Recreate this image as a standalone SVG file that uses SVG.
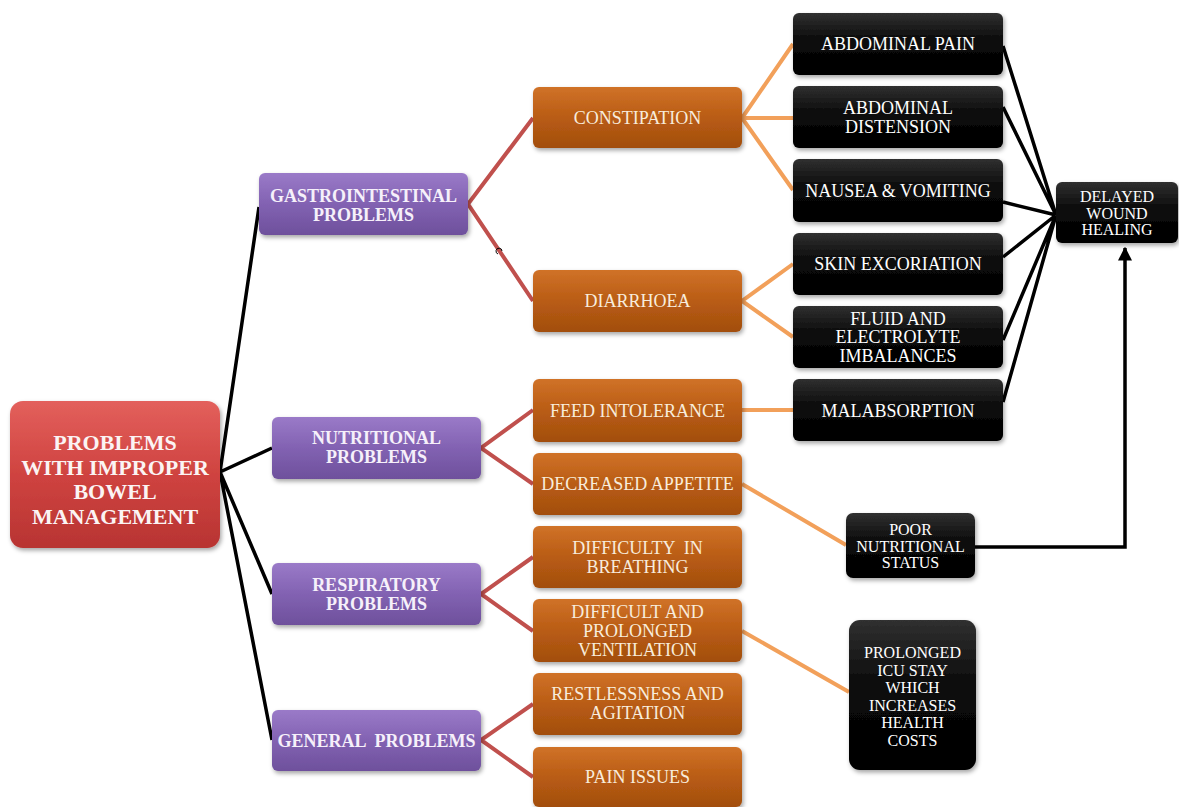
<svg xmlns="http://www.w3.org/2000/svg" width="1179" height="807" viewBox="0 0 1179 807">
<defs>
<linearGradient id="gRed" x1="0" y1="0" x2="0" y2="1"><stop offset="0" stop-color="#e3605c"/><stop offset="0.5" stop-color="#cf4340"/><stop offset="1" stop-color="#b83432"/></linearGradient>
<linearGradient id="gPur" x1="0" y1="0" x2="0" y2="1"><stop offset="0" stop-color="#9a7ac8"/><stop offset="0.5" stop-color="#8262b2"/><stop offset="1" stop-color="#6e509c"/></linearGradient>
<linearGradient id="gOra" x1="0" y1="0" x2="0" y2="1"><stop offset="0" stop-color="#d07228"/><stop offset="0.5" stop-color="#b95c14"/><stop offset="1" stop-color="#a24e0e"/></linearGradient>
<linearGradient id="gBlk" x1="0" y1="0" x2="0" y2="1"><stop offset="0" stop-color="#303030"/><stop offset="0.45" stop-color="#0a0a0a"/><stop offset="1" stop-color="#000"/></linearGradient>
<filter id="sh" x="-10%" y="-10%" width="130%" height="140%"><feDropShadow dx="1.5" dy="2.5" stdDeviation="2" flood-color="#000" flood-opacity="0.35"/></filter>
<marker id="arr" viewBox="0 0 10 10" refX="9" refY="5" markerWidth="4" markerHeight="4" orient="auto"><path d="M0,0 L10,5 L0,10 z" fill="#000"/></marker>
<style>
.red{fill:url(#gRed);filter:url(#sh)}
.pur{fill:url(#gPur);filter:url(#sh)}
.ora{fill:url(#gOra);filter:url(#sh)}
.blk{fill:url(#gBlk);filter:url(#sh)}
text{font-family:"Liberation Serif","Times New Roman",serif;text-anchor:middle}
.tr{font-size:22px;font-weight:bold;fill:#fbf4f4}
.tp{font-size:18px;font-weight:bold;fill:#f6f0fa}
.to{font-size:18px;fill:#f8ecdc}
.tb{font-size:18px;fill:#fff}
.ts{font-size:16px;fill:#fff}
.cb{stroke:#000;stroke-width:3.5;fill:none}
.cr{stroke:#c0504d;stroke-width:4;fill:none}
.co{stroke:#f2a05a;stroke-width:4;fill:none}
</style>
</defs>
<rect width="1179" height="807" fill="#fff"/>
<g id="connectors">
<path class="cb" d="M220,472 L259,207 M220,472 L272,448 M220,472 L272,594 M220,472 L272,740"/>
<path class="cr" d="M533,118 L468,204 L533,301 M533,410 L481,448 L533,484 M533,557 L481,594 L533,631 M533,704 L481,740 L533,777"/>
<path d="M498,254 a3,3 0 1 1 4,-3" stroke="#000" stroke-width="1" fill="none"/>
<path class="co" d="M793,44 L742,118 L793,190 M742,118 L793,118 M793,264 L742,301 L793,337 M742,410 L793,410 M742,484 L846,545 M742,631 L849,692"/>
<path class="cb" d="M1003,46 L1056,215 M1003,107 L1056,215 M1003,202 L1056,215 M1003,257 L1056,215 M1003,340 L1056,215 M1003,402 L1056,215"/>
<path class="cb" d="M975,547 L1125,547 L1125,248" marker-end="url(#arr)"/>
</g>
<g id="root"><rect class="red" x="10" y="401" width="210" height="147" rx="13"/>
<text class="tr"><tspan x="115" y="450">PROBLEMS</tspan><tspan x="115" y="474.5">WITH IMPROPER</tspan><tspan x="115" y="499">BOWEL</tspan><tspan x="115" y="523.5">MANAGEMENT</tspan></text></g>
<g id="gi"><rect class="pur" x="259" y="173" width="209" height="62" rx="6"/><text class="tp"><tspan x="363.5" y="201.5">GASTROINTESTINAL</tspan><tspan x="363.5" y="220.5">PROBLEMS</tspan></text></g>
<g id="nutritional"><rect class="pur" x="272" y="417" width="209" height="62" rx="6"/><text class="tp"><tspan x="376.5" y="443.5">NUTRITIONAL</tspan><tspan x="376.5" y="462.5">PROBLEMS</tspan></text></g>
<g id="respiratory"><rect class="pur" x="272" y="563" width="209" height="62" rx="6"/><text class="tp"><tspan x="376.5" y="590.5">RESPIRATORY</tspan><tspan x="376.5" y="609.5">PROBLEMS</tspan></text></g>
<g id="general"><rect class="pur" x="272" y="710" width="209" height="61" rx="6"/><text class="tp" x="376.5" y="746.5" xml:space="preserve">GENERAL  PROBLEMS</text></g>
<g id="constipation"><rect class="ora" x="533" y="87" width="209" height="61" rx="6"/><text class="to" x="637.5" y="123.5">CONSTIPATION</text></g>
<g id="diarrhoea"><rect class="ora" x="533" y="270" width="209" height="62" rx="6"/><text class="to" x="637.5" y="307">DIARRHOEA</text></g>
<g id="feed"><rect class="ora" x="533" y="379" width="209" height="63" rx="6"/><text class="to" x="637.5" y="417">FEED INTOLERANCE</text></g>
<g id="appetite"><rect class="ora" x="533" y="453" width="209" height="62" rx="6"/><text class="to" x="637.5" y="490">DECREASED APPETITE</text></g>
<g id="breathing"><rect class="ora" x="533" y="526" width="209" height="62" rx="6"/><text class="to" xml:space="preserve"><tspan x="637.5" y="553.5">DIFFICULTY  IN</tspan><tspan x="637.5" y="572.5">BREATHING</tspan></text></g>
<g id="ventilation"><rect class="ora" x="533" y="599" width="209" height="63" rx="6"/><text class="to"><tspan x="637.5" y="617.5">DIFFICULT AND</tspan><tspan x="637.5" y="636.5">PROLONGED</tspan><tspan x="637.5" y="655.5">VENTILATION</tspan></text></g>
<g id="restlessness"><rect class="ora" x="533" y="673" width="209" height="62" rx="6"/><text class="to"><tspan x="637.5" y="700">RESTLESSNESS AND</tspan><tspan x="637.5" y="719">AGITATION</tspan></text></g>
<g id="pain"><rect class="ora" x="533" y="747" width="209" height="60" rx="6"/><text class="to" x="637.5" y="783">PAIN ISSUES</text></g>
<g id="abdpain"><rect class="blk" x="793" y="13" width="210" height="62" rx="6"/><text class="tb" x="898" y="50">ABDOMINAL PAIN</text></g>
<g id="distension"><rect class="blk" x="793" y="86" width="210" height="62" rx="6"/><text class="tb"><tspan x="898" y="113.5">ABDOMINAL</tspan><tspan x="898" y="132.5">DISTENSION</tspan></text></g>
<g id="nausea"><rect class="blk" x="793" y="159" width="210" height="63" rx="6"/><text class="tb" x="898" y="196.5">NAUSEA &amp; VOMITING</text></g>
<g id="skin"><rect class="blk" x="793" y="233" width="210" height="62" rx="6"/><text class="tb" x="898" y="270">SKIN EXCORIATION</text></g>
<g id="fluid"><rect class="blk" x="793" y="306" width="210" height="62" rx="6"/><text class="tb"><tspan x="898" y="325">FLUID AND</tspan><tspan x="898" y="343">ELECTROLYTE</tspan><tspan x="898" y="361.5">IMBALANCES</tspan></text></g>
<g id="malabsorption"><rect class="blk" x="793" y="379" width="210" height="62" rx="6"/><text class="tb" x="898" y="416.5">MALABSORPTION</text></g>
<g id="wound"><rect class="blk" x="1056" y="182" width="122" height="61" rx="6"/><text class="ts"><tspan x="1117" y="202">DELAYED</tspan><tspan x="1117" y="218.5">WOUND</tspan><tspan x="1117" y="235">HEALING</tspan></text></g>
<g id="poor"><rect class="blk" x="846" y="513" width="129" height="65" rx="7"/><text class="ts"><tspan x="910.5" y="535">POOR</tspan><tspan x="910.5" y="551.5">NUTRITIONAL</tspan><tspan x="910.5" y="568">STATUS</tspan></text></g>
<g id="icu"><rect class="blk" x="849" y="620" width="127" height="150" rx="11"/><text class="ts"><tspan x="912.5" y="658">PROLONGED</tspan><tspan x="912.5" y="675.5">ICU STAY</tspan><tspan x="912.5" y="693">WHICH</tspan><tspan x="912.5" y="710.5">INCREASES</tspan><tspan x="912.5" y="728">HEALTH</tspan><tspan x="912.5" y="745.5">COSTS</tspan></text></g>
</svg>
